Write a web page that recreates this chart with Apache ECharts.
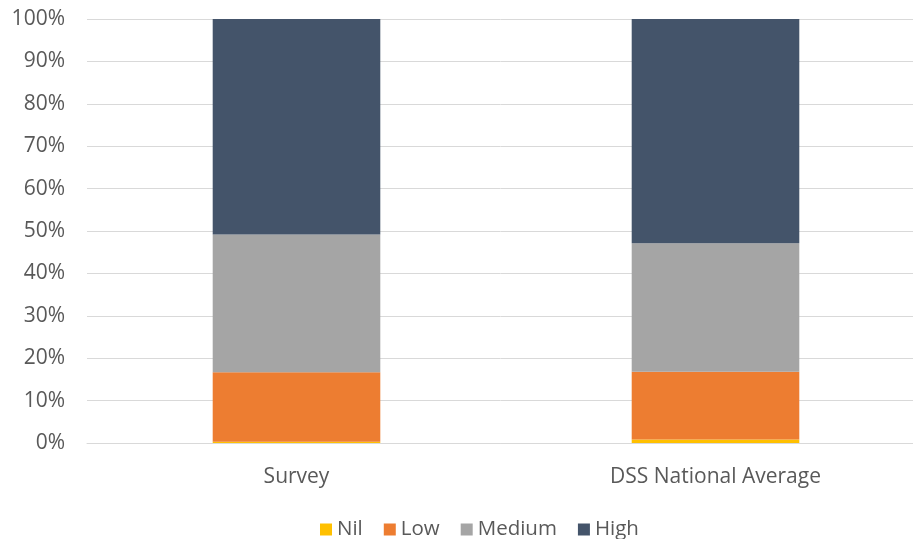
<!DOCTYPE html>
<html>
<head>
<meta charset="utf-8">
<script src="https://cdn.jsdelivr.net/npm/echarts@6/dist/echarts.min.js"></script>
<style>
  html, body { margin: 0; padding: 0; background: #fff; }
  #chart { width: 913px; height: 539px; }
</style>
</head>
<body>
<div id="chart"></div>
<script>
// stacked share by risk level
var categories = ['Survey', 'DSS National Average'];
var nilData = [0.3, 0.8];
var lowData = [16.4, 16.0];
var mediumData = [32.5, 30.3];
var highData = [50.8, 52.9];

var chart = echarts.init(document.getElementById('chart'));
var font = '"Open Sans", sans-serif';

function bar(name, data, color) {
    return {
        name: name,
        type: 'bar',
        stack: 'total',
        barWidth: '40%',
        data: data,
        itemStyle: { color: color }
    };
}

var option = {
    animation: false,
    textStyle: { fontFamily: font },
    grid: { left: 87, right: -12, top: 19, bottom: 96, outerBoundsMode: 'none' },
    legend: {
        bottom: -6,
        left: 315,
        itemWidth: 12,
        itemHeight: 12,
        itemGap: 21,
        icon: 'rect',
        textStyle: { fontSize: 20.5, color: '#595959', fontFamily: font },
        data: ['Nil', 'Low', 'Medium', 'High']
    },
    xAxis: {
        type: 'category',
        data: categories,
        axisLine: { lineStyle: { color: '#d9d9d9' } },
        axisTick: { show: false },
        axisLabel: { fontSize: 21, color: '#595959', margin: 24 }
    },
    yAxis: {
        type: 'value',
        min: 0,
        max: 100,
        interval: 10,
        axisLine: { show: false },
        axisTick: { show: false },
        splitLine: { lineStyle: { color: '#d9d9d9' } },
        axisLabel: { fontSize: 21, color: '#595959', margin: 22, formatter: '{value}%' }
    },
    series: [
        bar('Nil', nilData, '#ffc000'),
        bar('Low', lowData, '#ed7d31'),
        bar('Medium', mediumData, '#a5a5a5'),
        bar('High', highData, '#44546a')
    ]
};

chart.setOption(option);
window.onresize = function () { chart.resize(); };
</script>
</body>
</html>
